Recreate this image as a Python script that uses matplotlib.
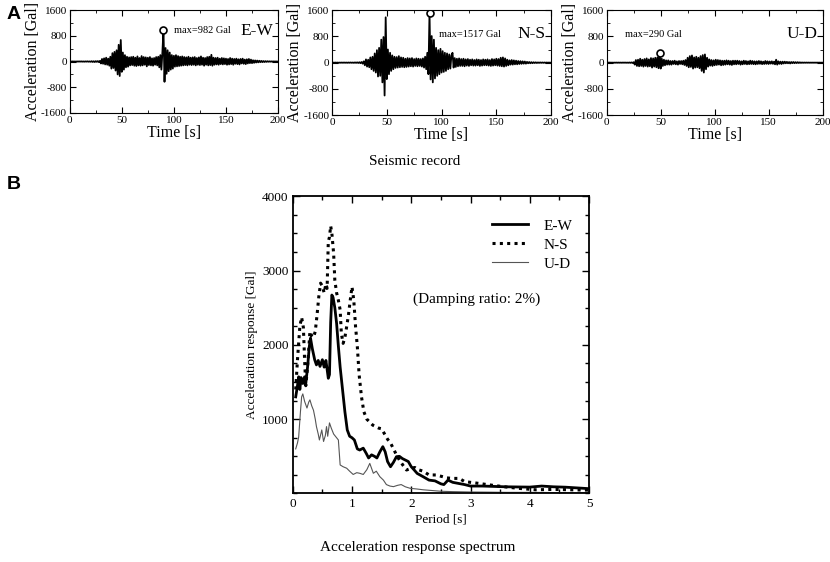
import numpy as np
import matplotlib.pyplot as plt
from matplotlib.ticker import MultipleLocator

plt.rcParams['font.family'] = ['Liberation Serif', 'DejaVu Serif']
plt.rcParams['axes.unicode_minus'] = False

# Registros sísmicos (1 muestra por segundo, t = 0..200 s), en Gal
tiempo = list(range(0, 201))

acel_ew = [
    0, 3, -2, 4, -3, 2, -4, 3, -2, 4,
    -3, 5, -4, 3, -5, 4, -3, 6, -5, 4,
    -8, 10, -12, 9, -15, 12, -10, 14, -18, 20,
    -60, 80, -70, 100, -90, 120, -100, 90, -130, 150,
    -220, 260, -200, 300, -280, 350, -400, 520, -450, 670,
    -320, 280, -250, 200, -180, 150, -160, 130, -120, 140,
    -110, 150, -130, 120, -140, 160, -120, 110, -130, 170,
    -120, 140, -100, 130, -150, 120, -110, 140, -120, 100,
    -130, 110, -100, 140, -120, 150, -180, 200, -250, 300,
    982, -630, 420, -380, 350, -300, 280, -250, 200, -220,
    180, -160, 200, -150, 170, -140, 150, -130, 160, -120,
    140, -110, 130, -120, 150, -100, 120, -110, 130, -100,
    140, -120, 110, -100, 130, -110, 160, -100, 120, -130,
    110, -100, 140, -120, 150, -110, 210, -130, 120, -100,
    110, -90, 120, -100, 90, -80, 110, -90, 100, -80,
    90, -100, 80, -90, 110, -80, 90, -100, 80, -70,
    90, -80, 70, -90, 80, -60, 90, -70, 60, -80,
    70, -60, 80, -50, 60, -50, 40, -40, 35, -30,
    30, -25, 25, -20, 20, -18, 15, -15, 12, -10,
    10, -8, 8, -6, 6, -5, 5, -4, 4, -3, 2,
]

acel_ns = [
    0, 2, -2, 3, -2, 2, -3, 2, -2, 3,
    -3, 4, -3, 3, -4, 4, -3, 5, -4, 4,
    -6, 8, -7, 10, -9, 12, -15, 20, -30, 40,
    -80, 100, -120, 90, -140, 160, -200, 180, -250, 280,
    -300, 380, -420, 450, -400, 700, -600, 780, -1000, 1380,
    -500, 400, -350, 300, -250, 220, -200, 180, -160, 170,
    -150, 200, -140, 160, -130, 150, -140, 120, -130, 140,
    -120, 130, -110, 140, -120, 110, -100, 130, -110, 120,
    -100, 110, -120, 130, -150, 180, -200, 300, -350, 1517,
    -510, 810, -600, 700, -480, 450, -400, 380, -350, 420,
    -300, 350, -280, 300, -250, 280, -200, 250, -180, 220,
    300, -150, 140, -130, 120, -110, 130, -100, 110, -100,
    120, -110, 100, -90, 110, -100, 90, -80, 100, -90,
    80, -90, 100, -80, 90, -100, 80, -90, 100, -80,
    90, -80, 100, -90, 80, -100, 110, -90, 100, -80,
    120, -90, 110, -100, 150, -110, 160, -120, 130, -100,
    90, -80, 70, -60, 80, -60, 70, -50, 60, -50,
    50, -40, 45, -35, 40, -30, 35, -30, 25, -20,
    20, -18, 15, -15, 12, -10, 10, -10, 8, -8,
    8, -6, 6, -5, 5, -4, 4, -3, 3, -2, 2,
]

acel_ud = [
    0, 1, -1, 2, -1, 1, -2, 1, -1, 2,
    -2, 2, -2, 2, -3, 3, -2, 3, -3, 2,
    -4, 5, -6, 8, -10, 15, -60, 80, -100, 90,
    -110, 120, -100, 90, -120, 110, -100, 130, -120, 100,
    -110, 140, -150, 130, -120, 150, -140, 160, -170, 290,
    -180, 120, -100, 90, -80, 70, -60, 70, -60, 50,
    -60, 50, -40, 60, -50, 40, -60, 50, -40, 50,
    -50, 60, -70, 80, -100, 150, -140, 200, -130, 220,
    -180, 160, -150, 180, -140, 150, -170, 200, -250, 230,
    -300, 250, -200, 150, -120, 100, -90, 80, -100, 70,
    -80, 90, -70, 80, -60, 70, -80, 60, -70, 60,
    -60, 70, -50, 60, -60, 50, -70, 60, -50, 60,
    -50, 60, -40, 50, -60, 40, -50, 60, -40, 50,
    -50, 40, -45, 60, -40, 50, -45, 40, -50, 40,
    -40, 50, -35, 40, -45, 30, -40, 50, -35, 40,
    -40, 35, -30, 40, -35, 30, -50, 90, -60, 40,
    -35, 30, -40, 30, -25, 30, -20, 25, -20, 20,
    -25, 20, -15, 20, -15, 15, -12, 15, -10, 10,
    -8, 6, -5, 4, -3, 3, -2, 2, -2, 1,
    -1, 1, -1, 1, -1, 1, -1, 1, -1, 1, 0,
]

# Máximos marcados (tiempo, valor)
max_ew = (90, 982)
max_ns = (89, 1517)
max_ud = (49, 290)

# Espectro de respuesta de aceleración (amortiguamiento 2%)
periodo_ew = [0.05, 0.08, 0.1, 0.12, 0.14, 0.17, 0.2, 0.22, 0.25, 0.28,
              0.3, 0.33, 0.37, 0.4, 0.43, 0.46, 0.5, 0.53, 0.56, 0.6,
              0.62, 0.64, 0.66, 0.68, 0.71, 0.74, 0.77, 0.8, 0.84, 0.88,
              0.92, 0.96, 1.0, 1.04, 1.09, 1.13, 1.19, 1.24, 1.28, 1.33,
              1.38, 1.42, 1.47, 1.52, 1.56, 1.6, 1.65, 1.7, 1.75, 1.8,
              1.85, 1.9, 1.95, 2.0, 2.05, 2.1, 2.2, 2.3, 2.4, 2.5,
              2.55, 2.62, 2.7, 2.8, 2.9, 3.0, 3.2, 3.4, 3.6, 3.8,
              4.0, 4.2, 4.4, 4.6, 4.8, 5.0]
resp_ew = [1300, 1450, 1570, 1400, 1560, 1480, 1570, 1480, 1700, 1980,
           2090, 1950, 1800, 1730, 1790, 1710, 1800, 1700, 1790, 1550,
           1600, 2300, 2670, 2640, 2500, 2290, 1980, 1700, 1400, 1100,
           855, 770, 750, 720, 600, 585, 610, 540, 478, 520,
           500, 478, 560, 630, 560, 430, 360, 420, 495, 500,
           470, 450, 430, 360, 316, 270, 226, 180, 170, 130,
           120, 180, 150, 135, 120, 100, 100, 95, 90, 88,
           86, 100, 90, 85, 75, 65]

periodo_ns = [0.05, 0.08, 0.12, 0.15, 0.18, 0.2, 0.22, 0.25, 0.29, 0.32,
              0.35, 0.38, 0.41, 0.44, 0.47, 0.5, 0.53, 0.56, 0.58, 0.6,
              0.62, 0.64, 0.66, 0.69, 0.71, 0.74, 0.77, 0.8, 0.82, 0.85,
              0.88, 0.91, 0.94, 0.97, 1.0, 1.03, 1.06, 1.09, 1.12, 1.16,
              1.2, 1.25, 1.3, 1.35, 1.4, 1.45, 1.5, 1.55, 1.6, 1.65,
              1.7, 1.75, 1.8, 1.86, 1.92, 2.0, 2.06, 2.12, 2.2, 2.3,
              2.42, 2.53, 2.6, 2.7, 2.81, 2.9, 3.0, 3.1, 3.3, 3.55,
              3.8, 4.1, 4.4, 4.7, 5.0]
resp_ns = [1400, 1800, 2250, 2370, 2230, 1800, 1450, 1700, 2180, 2120,
           2100, 2180, 2400, 2650, 2830, 2790, 2700, 2820, 2760, 3390,
           3450, 3600, 3500, 3230, 2870, 2700, 2600, 2470, 2155, 2020,
           2100, 2245, 2400, 2600, 2780, 2600, 2245, 1975, 1600, 1300,
           1100, 1000, 960, 920, 900, 880, 870, 800, 730, 680,
           600, 520, 450, 380, 316, 340, 350, 320, 300, 250,
           249, 226, 210, 203, 203, 160, 150, 140, 118, 92,
           70, 50, 55, 50, 45]

periodo_ud = [0.05, 0.08, 0.1, 0.13, 0.15, 0.17, 0.2, 0.24, 0.27, 0.29,
              0.32, 0.35, 0.38, 0.4, 0.43, 0.45, 0.49, 0.52, 0.55, 0.57,
              0.59, 0.62, 0.65, 0.69, 0.73, 0.77, 0.8, 0.85, 0.91, 0.96,
              1.02, 1.08, 1.13, 1.19, 1.25, 1.3, 1.36, 1.41, 1.47, 1.53,
              1.58, 1.64, 1.7, 1.77, 1.83, 1.9, 1.98, 2.1, 2.2, 2.35,
              2.5, 2.7, 3.0, 3.3, 3.6, 4.0, 4.5, 5.0]
resp_ud = [600, 680, 760, 1100, 1300, 1340, 1240, 1150, 1230, 1260,
           1180, 1120, 1000, 900, 800, 720, 855, 700, 780, 900,
           770, 950, 880, 800, 760, 720, 384, 360, 340, 300,
           256, 280, 272, 256, 320, 405, 272, 300, 226, 180,
           120, 100, 92, 110, 120, 90, 70, 60, 50, 40,
           30, 25, 20, 18, 15, 15, 12, 10]


def panel_registro(ax, acel, punto_max, componente, texto_max, pos_texto, pos_comp):
    """Dibuja un registro de aceleración con su máximo marcado."""
    ax.plot(tiempo, acel, color='black', lw=1.3)
    ax.plot([punto_max[0]], [punto_max[1]], 'o', ms=5, mfc='white', mec='black', mew=1.2)
    ax.set_xlim(0, 200)
    ax.set_ylim(-1600, 1600)
    ax.set_xticks([0, 50, 100, 150, 200])
    ax.set_yticks([-1600, -800, 0, 800, 1600])
    ax.xaxis.set_minor_locator(MultipleLocator(25))
    ax.yaxis.set_minor_locator(MultipleLocator(400))
    ax.tick_params(which='both', direction='in', top=True, right=True, labelsize=8, pad=2)
    ax.tick_params(which='major', length=4)
    ax.tick_params(which='minor', length=2)
    ax.set_xlabel('Time [s]', fontsize=11.5, labelpad=0)
    ax.set_ylabel('Acceleration [Gal]', fontsize=11.5, labelpad=0)
    ax.text(pos_texto[0], pos_texto[1], texto_max, fontsize=7.5, va='center')
    ax.text(pos_comp[0], pos_comp[1], componente, fontsize=12.5, va='center', ha='right')


fig = plt.figure(figsize=(8.3, 5.62), dpi=100)

ax1 = fig.add_axes([0.084, 0.799, 0.251, 0.183])
ax2 = fig.add_axes([0.400, 0.795, 0.264, 0.187])
ax3 = fig.add_axes([0.731, 0.795, 0.260, 0.187])

panel_registro(ax1, acel_ew, max_ew, 'E-W', 'max=982 Gal', (100, 960), (195, 960))
panel_registro(ax2, acel_ns, max_ns, 'N-S', 'max=1517 Gal', (98, 860), (195, 860))
panel_registro(ax3, acel_ud, max_ud, 'U-D', 'max=290 Gal', (17, 860), (195, 860))

fig.text(0.5, 0.713, 'Seismic record', ha='center', va='center', fontsize=11)

# Espectro de respuesta
ax4 = fig.add_axes([0.3527, 0.1219, 0.357, 0.529])
ax4.plot(periodo_ew, resp_ew, color='black', lw=2.0, label='E-W')
ax4.plot(periodo_ns, resp_ns, color='black', lw=2.2, dashes=(1.0, 1.4), label='N-S')
ax4.plot(periodo_ud, resp_ud, color='#555555', lw=0.8, label='U-D')
ax4.set_xlim(0, 5)
ax4.set_ylim(0, 4000)
ax4.set_xticks([0, 1, 2, 3, 4, 5])
ax4.set_yticks([1000, 2000, 3000, 4000])
ax4.xaxis.set_minor_locator(MultipleLocator(0.5))
ax4.yaxis.set_minor_locator(MultipleLocator(250))
ax4.tick_params(which='both', direction='in', top=True, right=True, labelsize=9.5, pad=3)
ax4.tick_params(which='major', length=5, width=1)
ax4.tick_params(which='minor', length=3, width=1)
for lado in ax4.spines.values():
    lado.set_linewidth(1.3)
ax4.set_xlabel('Period [s]', fontsize=9.5, labelpad=3)
ax4.set_ylabel('Acceleration response [Gal]', fontsize=9.5, labelpad=3)
ax4.legend(loc='upper right', bbox_to_anchor=(0.99, 0.97), frameon=False, fontsize=11,
           handlelength=2.4, labelspacing=0.35, handletextpad=1.0)
ax4.text(0.405, 0.64, '(Damping ratio: 2%)', transform=ax4.transAxes, fontsize=11)

fig.text(0.503, 0.025, 'Acceleration response spectrum', ha='center', va='center', fontsize=11)

fig.text(0.008, 0.975, 'A', fontsize=14, fontweight='bold', family='Liberation Sans', va='center')
fig.text(0.008, 0.672, 'B', fontsize=14, fontweight='bold', family='Liberation Sans', va='center')

fig.savefig('out.png', dpi=100)
